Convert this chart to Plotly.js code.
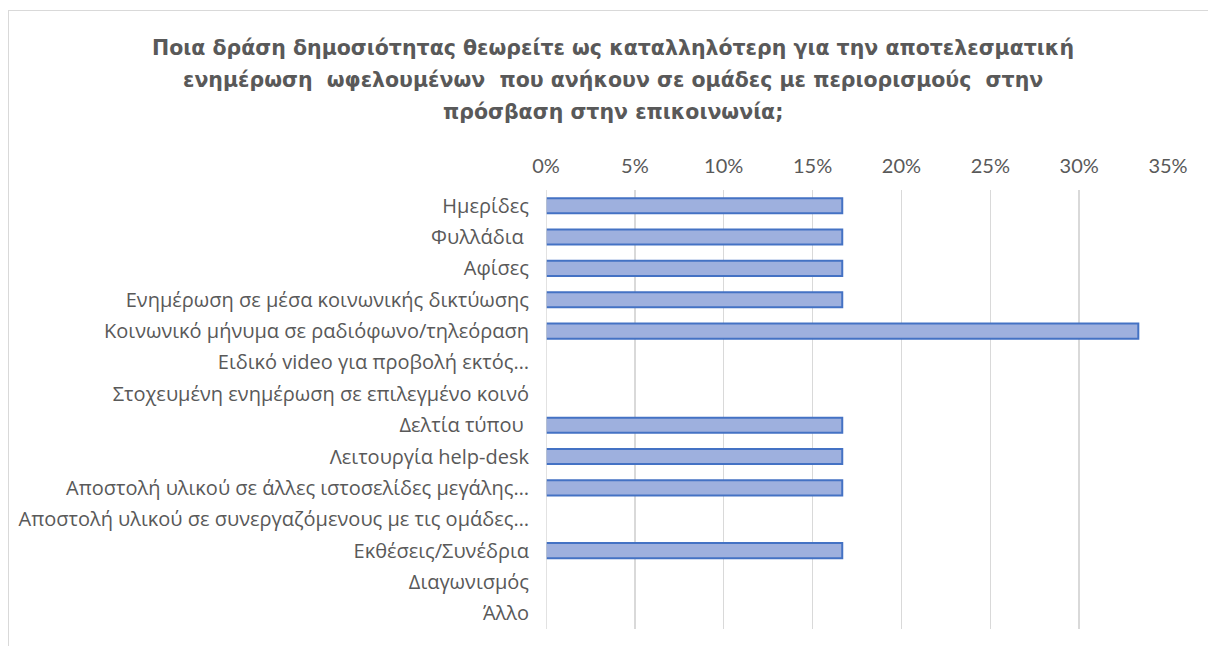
<!DOCTYPE html>
<html>
<head>
<meta charset="utf-8">
<script src="https://cdn.plot.ly/plotly-3.0.1.min.js"></script>
<style>
  html, body { margin: 0; padding: 0; background: #fff; overflow: hidden; }
  #wrap { position: absolute; left: 0; top: 0; width: 1208px; height: 646px; }
  #frame { position: absolute; left: 8px; top: 10px; width: 1400px; height: 800px; border: 1px solid #d9d9d9; box-sizing: border-box; pointer-events: none; }
  #chart { position: absolute; left: 0; top: 0; width: 1208px; height: 646px; }
</style>
</head>
<body>
<div id="wrap">
  <div id="chart"></div>
  <div id="frame"></div>
</div>
<script>
const categories = [
  "Ημερίδες",
  "Φυλλάδια\u00a0",
  "Αφίσες",
  "Ενημέρωση σε μέσα κοινωνικής δικτύωσης",
  "Κοινωνικό μήνυμα σε ραδιόφωνο/τηλεόραση",
  "Ειδικό video για προβολή εκτός…",
  "Στοχευμένη ενημέρωση σε επιλεγμένο κοινό",
  "Δελτία τύπου\u00a0",
  "Λειτουργία help-desk",
  "Αποστολή υλικού σε άλλες ιστοσελίδες μεγάλης…",
  "Αποστολή υλικού σε συνεργαζόμενους με τις ομάδες…",
  "Εκθέσεις/Συνέδρια",
  "Διαγωνισμός",
  "Άλλο"
];
const percentValues = [16.67, 16.67, 16.67, 16.67, 33.33, 0, 0, 16.67, 16.67, 16.67, 0, 16.67, 0, 0];
const xTickValues = [0, 5, 10, 15, 20, 25, 30, 35];
const titleLines = [
  "Ποια δράση δημοσιότητας θεωρείτε ως καταλληλότερη για την αποτελεσματική",
  "ενημέρωση  ωφελουμένων  που ανήκουν σε ομάδες με περιορισμούς  στην",
  "πρόσβαση στην επικοινωνία;"
];

const W = 1208, H = 646;
const M = { l: 546, r: 40, t: 190, b: 17 };
const plotW = W - M.l - M.r, plotH = H - M.t - M.b;
const px2x = px => (px - M.l) / plotW;
const py2y = py => (H - M.b - py) / plotH;

const titleY = [48, 80, 112];
const annotations = titleLines.map((t, i) => ({
  text: t, xref: 'paper', yref: 'paper', x: px2x(613), y: py2y(titleY[i]),
  xanchor: 'center', yanchor: 'middle', showarrow: false,
  font: { family: 'DejaVu Sans, sans-serif', size: 20.5, color: '#595959', weight: 'bold' }
}));

const trace = {
  type: 'bar', orientation: 'h',
  y: categories, x: percentValues,
  width: 0.48,
  marker: {
    color: '#9eb0de',
    line: { color: '#4472c4', width: percentValues.map(v => v > 0 ? 2 : 0) }
  },
  hoverinfo: 'skip'
};

const layout = {
  width: W, height: H,
  margin: M,
  paper_bgcolor: 'rgba(0,0,0,0)', plot_bgcolor: 'rgba(0,0,0,0)',
  showlegend: false,
  font: { family: 'Open Sans, sans-serif', color: '#595959', size: 20 },
  xaxis: {
    side: 'top', range: [0, 35], tickvals: xTickValues,
    ticktext: xTickValues.map(v => v + '%'),
    showgrid: true, gridcolor: '#d9d9d9', gridwidth: 1.5,
    zeroline: false, showline: false, ticks: '', ticklabelstandoff: 12,
    tickfont: { family: 'Lato, sans-serif', size: 20, color: '#595959' }, fixedrange: true
  },
  yaxis: {
    autorange: 'reversed', type: 'category',
    showgrid: false, zeroline: false, showline: false, ticks: '',
    ticklabelstandoff: 16,
    tickfont: { size: 20, color: '#595959' }, fixedrange: true
  },
  shapes: [{ type: 'line', xref: 'x', yref: 'paper', x0: 0, x1: 0, y0: 0, y1: 1, line: { color: '#d9d9d9', width: 1.5 } }],
  annotations: annotations
};

Plotly.newPlot('chart', [trace], layout, { displayModeBar: false, staticPlot: true });
</script>
</body>
</html>
